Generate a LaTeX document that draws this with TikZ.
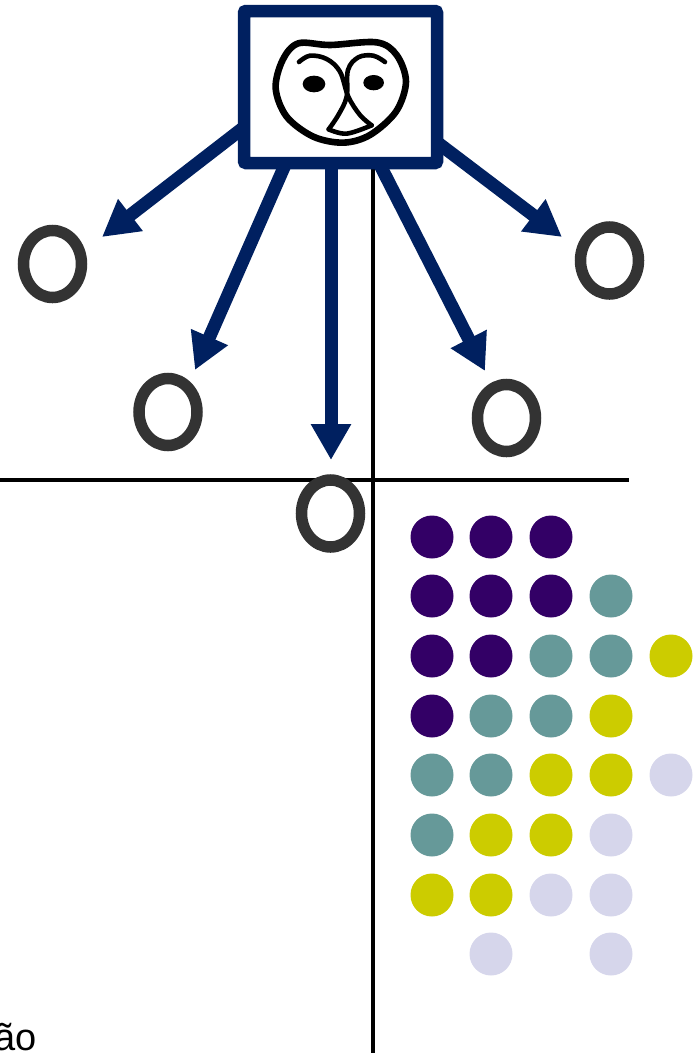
\documentclass[tikz,border=0pt]{standalone}
\usepackage{fontspec}
\setmainfont{Liberation Sans}
\usetikzlibrary{arrows.meta,shapes.geometric}
\definecolor{navy}{HTML}{002060}
\definecolor{ringc}{HTML}{333333}
\definecolor{pur}{HTML}{330066}
\definecolor{tea}{HTML}{669999}
\definecolor{yel}{HTML}{CCCC00}
\definecolor{lav}{HTML}{D6D6EB}
\tikzset{
  axisline/.style={line width=3.4pt,black},
  ring/.style={draw=ringc,line width=11.5pt,ellipse,inner sep=0pt,minimum width=58pt,minimum height=67pt},
  bigarrow/.style={draw=navy,fill=navy,line width=13pt,-{Triangle[length=36pt,width=38pt]}},
  framebox/.style={draw=navy,line width=12.5pt,rounded corners=2pt,fill=white,inner sep=0pt,minimum width=193pt,minimum height=152pt},
  ball/.style={circle,inner sep=0pt,minimum size=43pt},
  facepen/.style={draw=black,line width=4.6pt,line cap=round,line join=round},
}
\begin{document}
\begin{tikzpicture}[x=1pt,y=-1pt]
\useasboundingbox (0,0) rectangle (693,1053);
\clip (0,0) rectangle (693,1053);
% axes
\coordinate (vtop) at (373,165);
\coordinate (vbot) at (373,1053);
\coordinate (hleft) at (0,480);
\coordinate (hright) at (629,480);
\draw[axisline] (vtop) -- (vbot);
\draw[axisline] (hleft) -- (hright);
% rings
\node[ring] (r1) at (52.5,264) {};
\node[ring] (r2) at (168,412) {};
\node[ring] (r3) at (330.5,513.5) {};
\node[ring] (r4) at (506.5,418) {};
\node[ring] (r5) at (609.5,260.5) {};
% frame
\node[framebox] (box) at (340.5,87) {};
% arrows
\coordinate (t1) at (102,237);
\coordinate (t2) at (195,370);
\coordinate (t3) at (331,460);
\coordinate (t4) at (485,371);
\coordinate (t5) at (562,237);
\coordinate (s1) at (243,128);
\coordinate (s2) at (285,165);
\coordinate (s3) at (331,165);
\coordinate (s4) at (380,165);
\coordinate (s5) at (438,143);
\draw[bigarrow] (s1) -- (t1);
\draw[bigarrow] (s2) -- (t2);
\draw[bigarrow] (s3) -- (t3);
\draw[bigarrow] (s4) -- (t4);
\draw[bigarrow] (s5) -- (t5);
% face
\begin{scope}[shift={(230,0)},x=0.3333pt,y=-0.3333pt]
\draw[facepen,line width=6.6pt] plot[smooth cycle,tension=0.55] coordinates {(205,130) (300,135) (440,127) (500,165) (528,245) (498,335) (420,405) (340,428) (250,410) (170,350) (137,265) (158,180)};
\draw[facepen] plot[smooth,tension=0.6] coordinates {(207,186) (240,167) (290,177) (330,215) (355,290) (390,345) (425,376)};
\draw[facepen] plot[smooth,tension=0.6] coordinates {(465,186) (430,167) (385,172) (354,210) (350,290) (325,345) (296,388)};
\draw[facepen] plot[smooth,tension=0.6] coordinates {(296,388) (350,401) (425,376)};
\fill[black] (252,252) ellipse [x radius=34,y radius=25];
\fill[black] (431,248) ellipse [x radius=31,y radius=23];
\end{scope}
% dots
\foreach \px/\py/\c [count=\i] in {
 432/537/pur,491/537/pur,551/537/pur,
 432/596/pur,491/596/pur,551/596/pur,611/596/tea,
 432/656/pur,491/656/pur,551/656/tea,611/656/tea,671/656/yel,
 432/716/pur,491/716/tea,551/716/tea,611/716/yel,
 432/775/tea,491/775/tea,551/775/yel,611/775/yel,671/775/lav,
 432/835/tea,491/835/yel,551/835/yel,611/835/lav,
 432/895/yel,491/895/yel,551/895/lav,611/895/lav,
 491/954/lav,611/954/lav}
 \node[ball,fill=\c] (d\i) at (\px,\py) {};
% clipped caption
\node[anchor=base east,inner sep=0pt,font=\fontsize{38}{38}\selectfont] (cap) at (37,1050) {ão};
\end{tikzpicture}
\end{document}
